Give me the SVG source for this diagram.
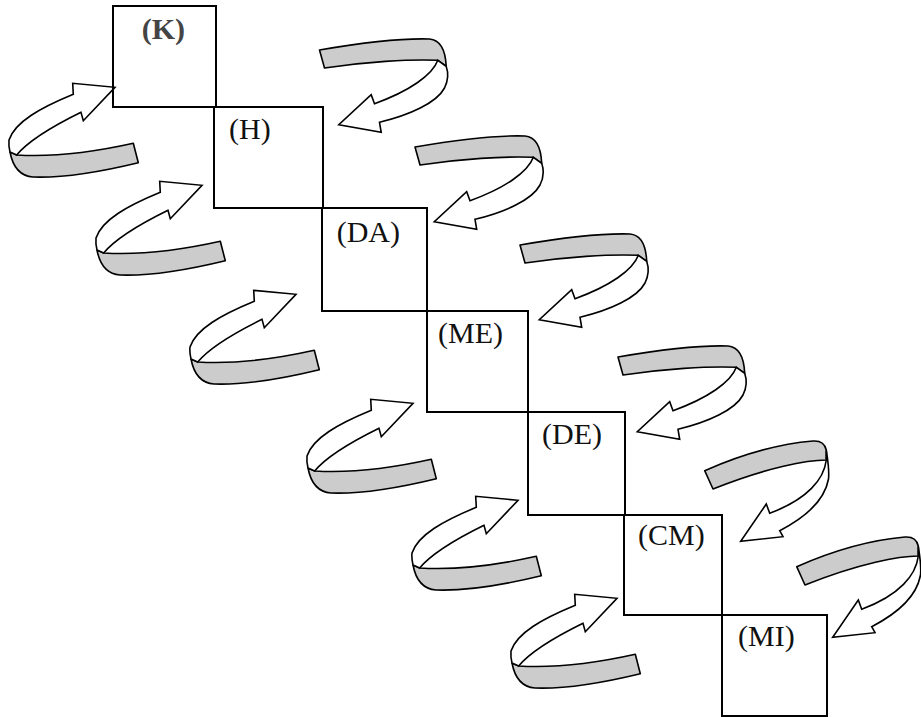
<svg xmlns="http://www.w3.org/2000/svg" xmlns:xlink="http://www.w3.org/1999/xlink" width="921" height="717" viewBox="0 0 921 717">
<style>
.box{fill:none;stroke:#000;stroke-width:2}
.lbl{font-family:"Liberation Serif","Times New Roman",serif;font-size:30px;fill:#111}
.band{fill:#cccccc;stroke:#000;stroke-width:1.6;stroke-linejoin:round}
.rib{fill:#fff;stroke:#000;stroke-width:1.6;stroke-linejoin:miter}
</style>
<defs>
<g id="arrowL">
<path class="band" d="M16.7,155 C50,157 90,153 133.3,143.3 L138.3,162.7 C100,172 60,178 33,177 C20,176 13,168 10,152 Z"/>
<path class="rib" d="M16.7,155 C25,145 45,130 81,112.3 L83.3,120.7 L115,87.3 L72.7,83.3 L73.3,94.3 C40,108 15,122 9,140 C8.5,145 9,148 10,152 Z"/>
</g>
<g id="arrowA">
<path class="band" d="M415,147 C450,141 495,135 525,136 C536,137 541,148 541.7,163.3 L533.3,157.3 C505,156 460,159 420,165 Z"/>
<path class="rib" d="M533.3,157.3 C528,172 505,188 470,200.7 L466.7,191.7 L434.3,221.7 L476.7,229.3 L475,219.3 C505,212 532,200 540,185 C544,177 544,170 541.7,163.3 Z"/>
</g>
<g id="arrowB">
<path class="band" d="M796.7,566.7 C830,552 870,540 905,537 C913,536.5 917,540 918.3,546 L918.3,556 C900,556 860,563 805,585 Z"/>
<path class="rib" d="M918.3,556 C916,575 900,595 861.7,609.3 L858.3,600 L832.7,637.3 L875,632.7 L871.7,626.7 C900,612 917,595 920.5,575 C921.5,566 920,558 918.3,546 Z"/>
</g>
</defs>
<rect width="921" height="717" fill="#fff"/>
<g id="connectors">
<use xlink:href="#arrowL"/>
<use xlink:href="#arrowL" transform="translate(87,98)"/>
<use xlink:href="#arrowL" transform="translate(181,207)"/>
<use xlink:href="#arrowL" transform="translate(298,316)"/>
<use xlink:href="#arrowL" transform="translate(403,413)"/>
<use xlink:href="#arrowL" transform="translate(502,511)"/>
<use xlink:href="#arrowA" transform="translate(-95.5,-97)"/>
<use xlink:href="#arrowA"/>
<use xlink:href="#arrowA" transform="translate(105,98)"/>
<use xlink:href="#arrowA" transform="translate(203,210)"/>
<use xlink:href="#arrowB" transform="translate(-92,-96)"/>
<use xlink:href="#arrowB"/>
</g>
<g id="node-K"><rect class="box" x="113" y="6" width="103" height="101"/><text class="lbl" x="141.7" y="39" font-weight="bold" fill="#444" style="fill:#444">(K)</text></g>
<g id="node-H"><rect class="box" x="214" y="107" width="109" height="101"/><text class="lbl" x="229" y="139">(H)</text></g>
<g id="node-DA"><rect class="box" x="322" y="208" width="105" height="103"/><text class="lbl" x="336.7" y="241.5">(DA)</text></g>
<g id="node-ME"><rect class="box" x="427" y="311" width="101" height="101"/><text class="lbl" x="438" y="343">(ME)</text></g>
<g id="node-DE"><rect class="box" x="528" y="412" width="97" height="103"/><text class="lbl" x="542" y="444">(DE)</text></g>
<g id="node-CM"><rect class="box" x="624" y="515" width="98" height="100"/><text class="lbl" x="638" y="545">(CM)</text></g>
<g id="node-MI"><rect class="box" x="722" y="615" width="105" height="101"/><text class="lbl" x="738" y="646">(MI)</text></g>
</svg>
